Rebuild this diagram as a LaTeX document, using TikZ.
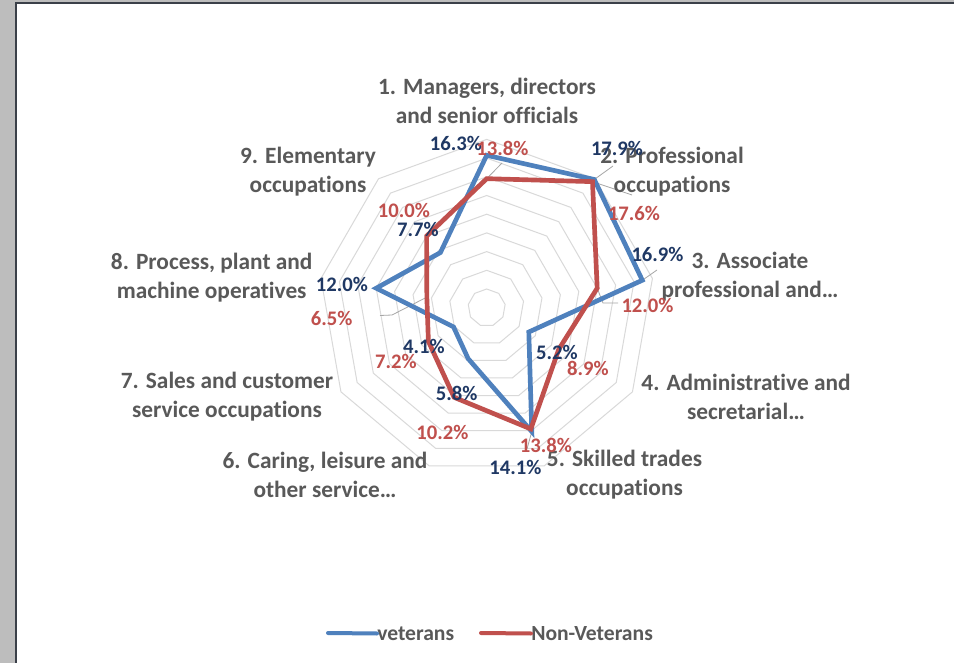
\documentclass[tikz,border=0pt]{standalone}
\usepackage{fontspec}
\setmainfont{Carlito}[Ligatures=NoCommon]
\usepackage{tikz}
\usetikzlibrary{positioning}
\definecolor{vetblue}{HTML}{4F81BD}
\definecolor{nonred}{HTML}{C0504D}
\definecolor{vetdark}{HTML}{1F3864}
\definecolor{catgray}{HTML}{595959}
\definecolor{ringgray}{HTML}{D9D9D9}
\definecolor{leadgray}{HTML}{A6A6A6}
\definecolor{framegray}{HTML}{BDBDBD}
\definecolor{framedark}{HTML}{3B4049}
\newcommand{\catfont}{\bfseries\fontsize{17.5}{21.8}\selectfont}
\newcommand{\valfont}{\bfseries\fontsize{15.5}{18}\selectfont}
\newcommand{\legfont}{\bfseries\fontsize{16.2}{18}\selectfont}

\begin{document}
\begin{tikzpicture}[x=0.75pt, y=-0.75pt,
  cat/.style={text=catgray, font=\catfont, align=center, inner sep=0pt},
  vlab/.style={text=vetdark, font=\valfont, inner sep=0pt},
  nlab/.style={text=nonred, font=\valfont, inner sep=0pt},
  ring/.style={draw=ringgray, line width=0.75pt},
  vetline/.style={draw=vetblue, line width=3.5pt},
  nonline/.style={draw=nonred, line width=3.5pt},
  leader/.style={draw=leadgray, line width=0.6pt}]

\useasboundingbox (0,0) rectangle (954,663);
\fill[white] (0,0) rectangle (954,663);
% window frame
\fill[framegray] (0,0) rectangle (15,663);
\fill[framegray] (0,0) rectangle (954,2.5);
\draw[framedark, line width=1.2pt] (15.8,663) -- (15.8,3.3) -- (954,3.3);

% radar, 1 unit = 1%
\begin{scope}[shift={(486.7,307.7)}, x=7.0125pt, y=-7.0125pt]
\foreach \r in {2,4,...,18}
  \draw[ring] (-90:\r) \foreach \k in {1,...,8} {-- ({-90+40*\k}:\r)} -- cycle;
\foreach \val [count=\k] in {16.3,17.9,16.9,5.2,14.1,5.8,4.1,12.0,7.7}
  \coordinate (v\k) at ({-130+40*\k}:\val);
\foreach \val [count=\k] in {13.8,17.6,12.0,8.9,13.8,10.2,7.2,6.5,10.0}
  \coordinate (n\k) at ({-130+40*\k}:\val);
\end{scope}

% leader lines
\coordinate (e-n1) at (502,163);
\coordinate (e-v2) at (613,166);
\coordinate (e-n2) at (632,195);
\coordinate (e-v3) at (657,270);
\coordinate (e-n3) at (618,303);
\coordinate (e-v5) at (527,449);
\coordinate (e-n8) at (380,315.5);
\draw[leader] (n1) -- (e-n1);
\draw[leader] (v2) -- (e-v2);
\draw[leader] (n2) -- (e-n2);
\draw[leader] (v3) -- (e-v3);
\draw[leader] (n3) -- (603,303) -- (e-n3);
\draw[leader] (v5) -- (e-v5);
\draw[leader] (n8) -- (392,315) -- (e-n8);

% series
\draw[vetline] (v1) -- (v2) -- (v3) -- (v4) -- (v5) -- (v6) -- (v7) -- (v8) -- (v9) -- cycle;
\draw[nonline] (n1) -- (n2) -- (n3) -- (n4) -- (n5) -- (n6) -- (n7) -- (n8) -- (n9) -- cycle;

% categories
\node[cat] (c1) at (487,101) {1. Managers, directors\\and senior officials};
\node[cat] (c2) at (672,172) {2. Professional\\occupations};
\node[cat] (c3) at (750,277) {3. Associate\\professional and…};
\node[cat] (c4) at (746,397) {4. Administrative and\\secretarial…};
\node[cat] (c5) at (624.5,475) {5. Skilled trades\\occupations};
\node[cat] (c6) at (325,475) {6. Caring, leisure and\\other service…};
\node[cat] (c7) at (227,397) {7. Sales and customer\\service occupations};
\node[cat] (c8) at (211.7,277.5) {8. Process, plant and\\machine operatives};
\node[cat] (c9) at (308,171.5) {9. Elementary\\occupations};

% veterans values
\node[vlab] (tv1) at (456,143) {16.3\%};
\node[vlab] (tv2) at (617,148) {17.9\%};
\node[vlab] (tv3) at (657.5,254) {16.9\%};
\node[vlab] (tv4) at (557,352) {5.2\%};
\node[vlab] (tv5) at (515.5,467) {14.1\%};
\node[vlab] (tv6) at (456.7,393) {5.8\%};
\node[vlab] (tv7) at (424,346) {4.1\%};
\node[vlab] (tv8) at (342,284) {12.0\%};
\node[vlab] (tv9) at (418,229) {7.7\%};

% non-veterans values
\node[nlab] (tn1) at (502.5,148) {13.8\%};
\node[nlab] (tn2) at (634,213) {17.6\%};
\node[nlab] (tn3) at (647.5,305) {12.0\%};
\node[nlab] (tn4) at (588,368) {8.9\%};
\node[nlab] (tn5) at (546,445) {13.8\%};
\node[nlab] (tn6) at (442.5,432) {10.2\%};
\node[nlab] (tn7) at (396,361) {7.2\%};
\node[nlab] (tn8) at (331.7,318) {6.5\%};
\node[nlab] (tn9) at (404,210) {10.0\%};

% legend
\node[cat, font=\legfont, anchor=west] (lgv) at (377,633.5) {veterans};
\node[cat, font=\legfont, anchor=west] (lgn) at (531,633.5) {Non-Veterans};
\coordinate (lgv-a) at (328,633);
\coordinate (lgn-a) at (481,633);
\draw[vetline, line width=3pt, line cap=round] (lgv-a) -- (lgv.west);
\draw[nonline, line width=3pt, line cap=round] (lgn-a) -- (lgn.west);
\end{tikzpicture}
\end{document}
